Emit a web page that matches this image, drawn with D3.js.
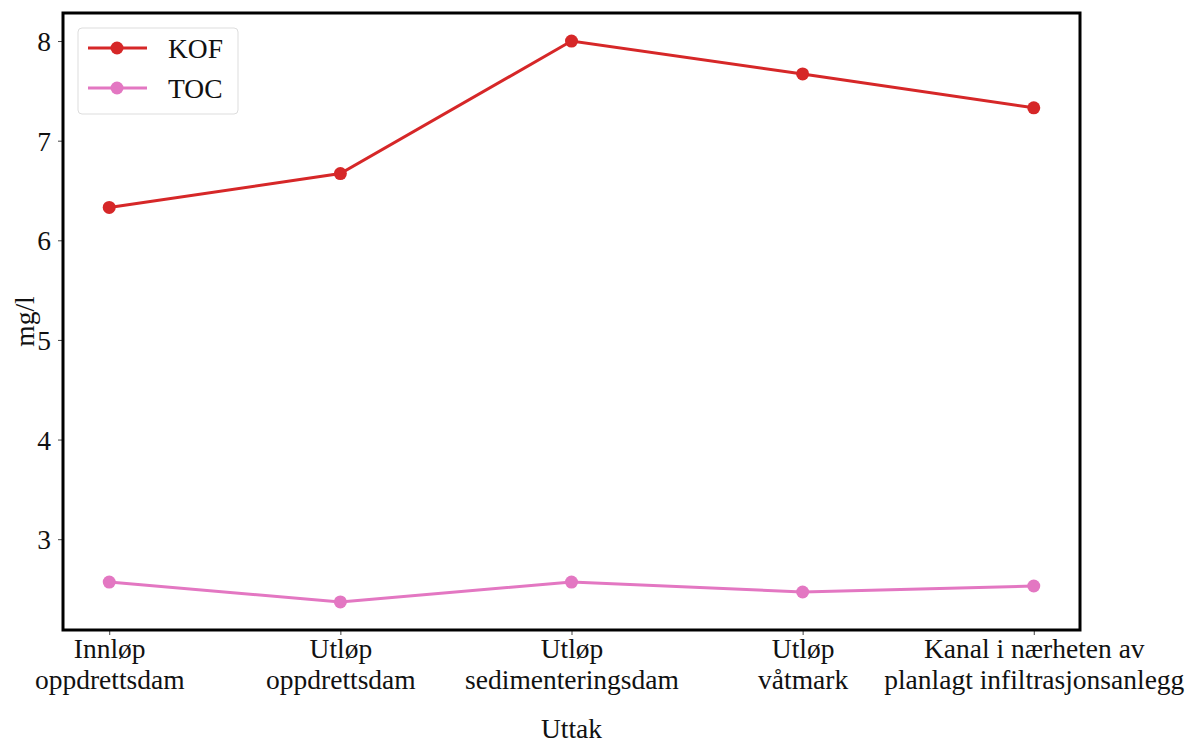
<!DOCTYPE html>
<html>
<head>
<meta charset="utf-8">
<script src="https://cdn.jsdelivr.net/npm/d3@7"></script>
<style>
  html, body { margin: 0; padding: 0; background: #fff; }
  svg { display: block; }
  text { font-family: "Liberation Serif", "DejaVu Serif", serif; fill: #111; }
</style>
</head>
<body>
<svg id="chart" width="1187" height="745"></svg>
<script>
// Sampling points (two-line tick labels)
const categories = [
  ["Innløp", "oppdrettsdam"],
  ["Utløp", "oppdrettsdam"],
  ["Utløp", "sedimenteringsdam"],
  ["Utløp", "våtmark"],
  ["Kanal i nærheten av", "planlagt infiltrasjonsanlegg"]
];
const kofValues = [6.33, 6.67, 8.0, 7.67, 7.33];
const tocValues = [2.57, 2.37, 2.57, 2.47, 2.53];
const yTicks = [3, 4, 5, 6, 7, 8];
const seriesNames = ["KOF", "TOC"];
const seriesColors = ["#d62728", "#e377c2"];

const series = [
  { name: seriesNames[0], color: seriesColors[0], values: kofValues },
  { name: seriesNames[1], color: seriesColors[1], values: tocValues }
];

const fontSize = "27.5px";
const svg = d3.select("#chart");
const plotL = 63, plotR = 1080, plotT = 13, plotB = 630;

// Axis ranges padded by 5% on each side
const n = categories.length;
const xPad = (n - 1) * 0.05;
const x = d3.scaleLinear().domain([-xPad, n - 1 + xPad]).range([plotL, plotR]);

const allVals = kofValues.concat(tocValues);
const yMin = d3.min(allVals), yMax = d3.max(allVals);
const yPad = (yMax - yMin) * 0.05;
const y = d3.scaleLinear().domain([yMin - yPad, yMax + yPad]).range([plotB, plotT]);

// Y axis
const yAxis = svg.append("g").attr("transform", `translate(${plotL},0)`)
  .call(d3.axisLeft(y).tickValues(yTicks).tickFormat(d3.format("d")).tickSize(5).tickPadding(7));
yAxis.select(".domain").remove();
yAxis.selectAll(".tick line").attr("stroke", "#444").attr("stroke-width", 1);
yAxis.selectAll(".tick text").style("font-size", fontSize).attr("dy", "0.35em");

// X axis with two-line labels
const xAxis = svg.append("g").attr("transform", `translate(0,${plotB})`)
  .call(d3.axisBottom(x).tickValues(d3.range(n)).tickSize(5).tickFormat(""));
xAxis.select(".domain").remove();
xAxis.selectAll(".tick line").attr("stroke", "#444").attr("stroke-width", 1);
xAxis.selectAll(".tick").each(function (d) {
  const t = d3.select(this).append("text")
    .attr("text-anchor", "middle")
    .style("font-size", fontSize);
  categories[d].forEach((line, i) => {
    t.append("tspan").attr("x", 0).attr("y", 28 + i * 31).text(line);
  });
});

// Lines and markers
const line = d3.line().x((d, i) => x(i)).y(d => y(d));
series.forEach(s => {
  svg.append("path").datum(s.values)
    .attr("d", line)
    .attr("fill", "none")
    .attr("stroke", s.color)
    .attr("stroke-width", 3);
  svg.append("g").selectAll("circle").data(s.values).join("circle")
    .attr("cx", (d, i) => x(i))
    .attr("cy", d => y(d))
    .attr("r", 6.5)
    .attr("fill", s.color);
});

// Frame
svg.append("rect")
  .attr("x", plotL).attr("y", plotT)
  .attr("width", plotR - plotL).attr("height", plotB - plotT)
  .attr("fill", "none").attr("stroke", "#000").attr("stroke-width", 3);

// Axis titles
svg.append("text")
  .attr("x", (plotL + plotR) / 2).attr("y", 738)
  .attr("text-anchor", "middle")
  .style("font-size", fontSize)
  .text("Uttak");
svg.append("text")
  .attr("transform", `translate(34,${(plotT + plotB) / 2}) rotate(-90)`)
  .attr("text-anchor", "middle")
  .style("font-size", fontSize)
  .text("mg/l");

// Legend
const legend = svg.append("g");
legend.append("rect")
  .attr("x", 78).attr("y", 28).attr("width", 160).attr("height", 86)
  .attr("rx", 4).attr("fill", "#fff").attr("fill-opacity", 0.8)
  .attr("stroke", "#ddd").attr("stroke-width", 1);
series.forEach((s, i) => {
  const ly = 48 + i * 40;
  legend.append("line")
    .attr("x1", 88).attr("x2", 147).attr("y1", ly).attr("y2", ly)
    .attr("stroke", s.color).attr("stroke-width", 3);
  legend.append("circle").attr("cx", 117).attr("cy", ly).attr("r", 6.5).attr("fill", s.color);
  legend.append("text")
    .attr("x", 168).attr("y", ly).attr("dy", "0.35em")
    .style("font-size", fontSize)
    .text(s.name);
});
</script>
</body>
</html>
